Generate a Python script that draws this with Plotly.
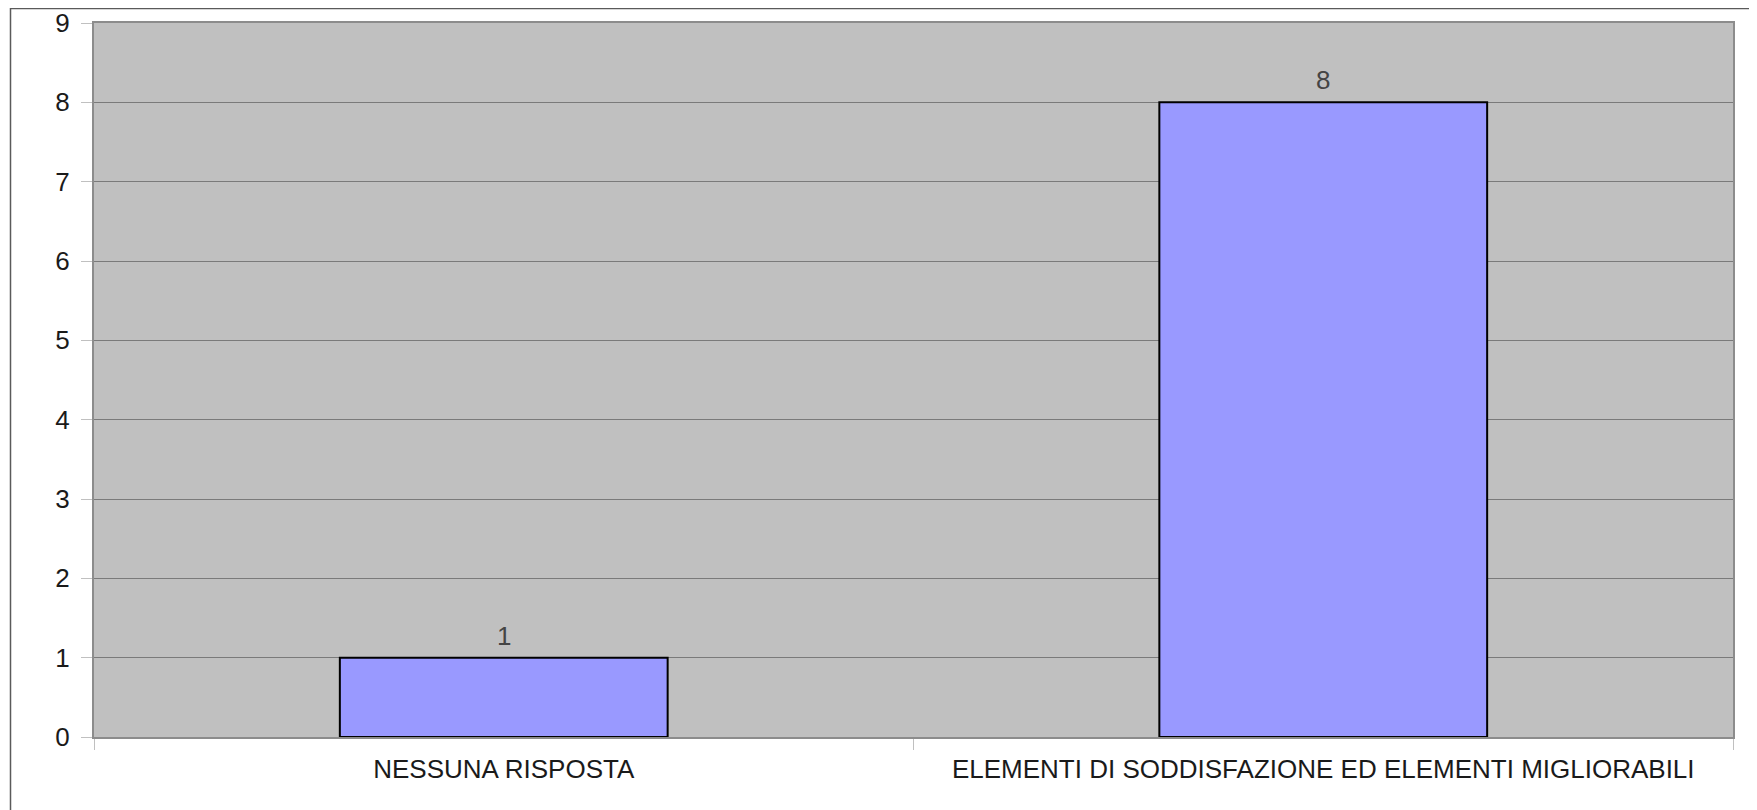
import plotly.graph_objects as go

categories = ["NESSUNA RISPOSTA", "ELEMENTI DI SODDISFAZIONE ED ELEMENTI MIGLIORABILI"]
values = [1, 8]
y_ticks = [0, 1, 2, 3, 4, 5, 6, 7, 8, 9]

# page body has an 8px offset
W, H = 1749, 802
ml, mr, mt, mb = 86, 24, 15, 73
pw, ph = W - ml - mr, H - mt - mb
FS = 26

fig = go.Figure()
fig.add_trace(go.Bar(
    x=categories, y=values, width=0.4,
    marker=dict(color="#9999ff", line=dict(color="#000000", width=2)),
    hoverinfo="skip",
))

for c, v in zip(categories, values):
    fig.add_annotation(x=c, y=v, text=str(v), showarrow=False, yanchor="bottom",
                       yshift=5, font=dict(family="Liberation Sans", size=FS, color="#444444"))

def px_x(p):
    return (p - ml) / pw

def px_y(p):
    return 1 - (p - mt) / ph

fig.add_shape(type="rect", xref="paper", yref="paper",
              x0=px_x(2.5), x1=px_x(1800), y0=px_y(0.5), y1=px_y(860),
              line=dict(color="#5a5a5a", width=1.5), fillcolor="rgba(0,0,0,0)", layer="above")

fig.update_layout(
    width=W, height=H, autosize=False,
    margin=dict(l=ml, r=mr, t=mt, b=mb, pad=0, autoexpand=False),
    paper_bgcolor="white", plot_bgcolor="#c0c0c0",
    showlegend=False,
    font=dict(family="Liberation Sans", size=FS, color="#1a1a1a"),
)
fig.update_yaxes(range=[0, 9], tickvals=y_ticks, ticktext=[str(t) for t in y_ticks],
                 gridcolor="#7a7a7a", gridwidth=1, automargin=False,
                 showline=True, linecolor="#8c8c8c", linewidth=2, mirror=True,
                 ticks="outside", ticklen=11, tickcolor="#c0c0c0", tickwidth=1,
                 ticklabelstandoff=6, zeroline=False,
                 tickfont=dict(family="Liberation Sans", size=FS, color="#1a1a1a"))
fig.update_xaxes(showline=True, linecolor="#8c8c8c", linewidth=2, mirror=True,
                 ticks="outside", ticklen=11, tickcolor="#c0c0c0", tickwidth=1,
                 tickson="boundaries", showgrid=False, ticklabelstandoff=8, automargin=False,
                 tickfont=dict(family="Liberation Sans", size=FS, color="#1a1a1a"))

fig.write_html("out.html")
